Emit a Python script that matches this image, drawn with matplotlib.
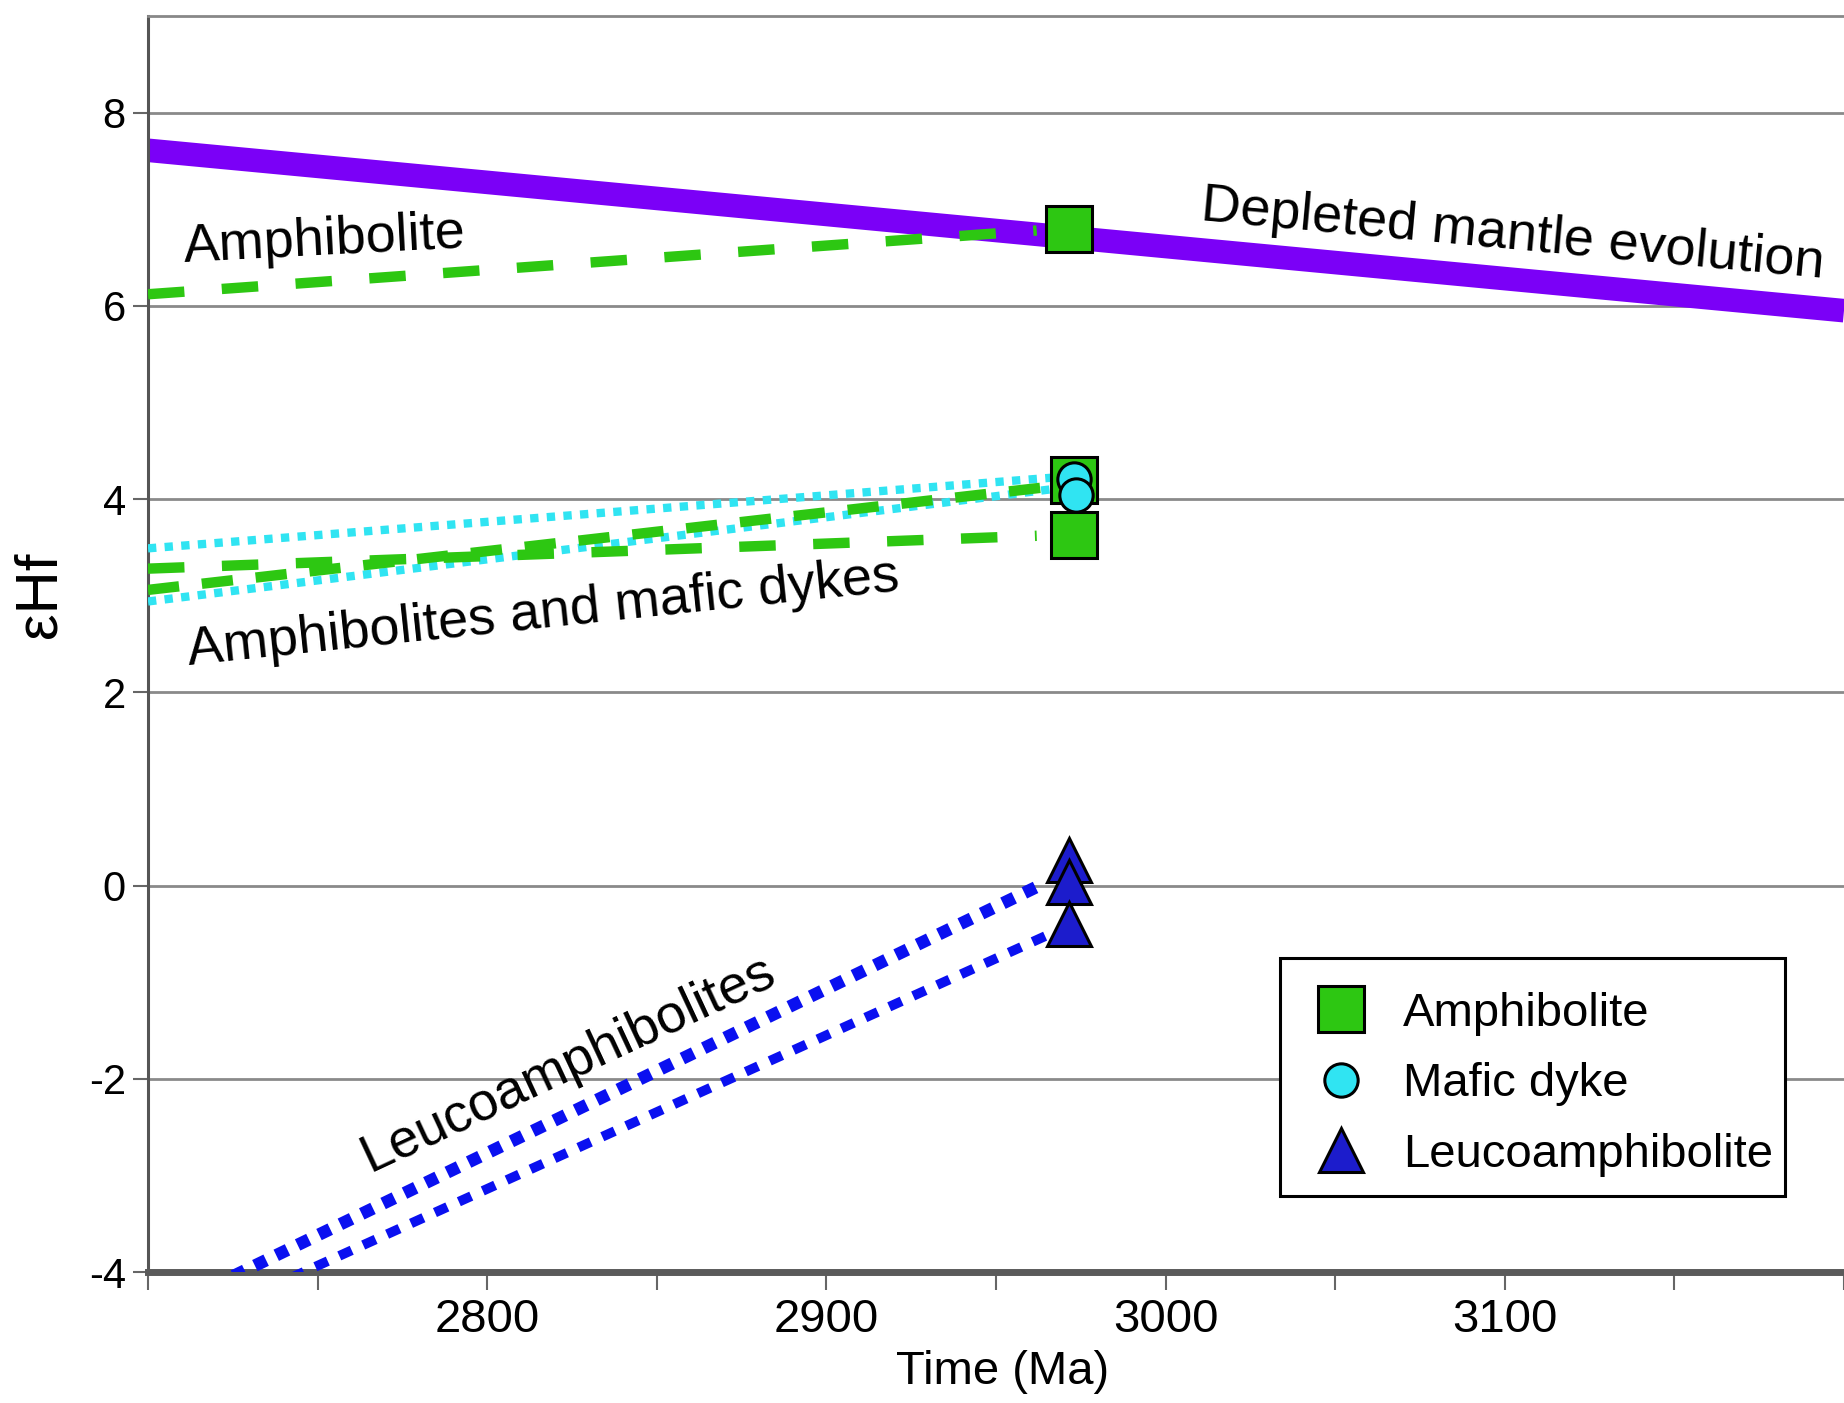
import matplotlib
matplotlib.use("Agg")
import matplotlib.pyplot as plt
from matplotlib.ticker import FixedLocator
from matplotlib.patches import Rectangle

plt.rcParams['font.family'] = ['Liberation Sans', 'DejaVu Sans']
plt.rcParams['axes.unicode_minus'] = False

# ---------------- data ----------------
x_lim = (2700, 3200)
y_lim = (-4, 9)
x_major = [2700, 2800, 2900, 3000, 3100, 3200]
x_major_labels = ['', '2800', '2900', '3000', '3100', '']
x_minor = [2750, 2850, 2950, 3050, 3150]
y_ticks = [-4, -2, 0, 2, 4, 6, 8]
y_tick_labels = ['-4', '-2', '0', '2', '4', '6', '8']

# depleted mantle evolution line
dm_x = [2700, 3200]
dm_y = [7.61, 5.95]

# Hf evolution lines
amph_top_x = [2700, 2962]
amph_top_y = [6.12, 6.78]
amph_flat_x = [2700, 2962]
amph_flat_y = [3.28, 3.62]
amph_rise_x = [2700, 2964]
amph_rise_y = [3.06, 4.12]
dyke_a_x = [2700, 2966]
dyke_a_y = [3.49, 4.22]
dyke_b_x = [2700, 2966]
dyke_b_y = [2.94, 4.10]
leuco_a_x = [2700, 2964]
leuco_a_y = [-4.47, 0.02]
leuco_b_x = [2700, 2966]
leuco_b_y = [-4.73, -0.50]

# sample points
amph_x = [2971.5, 2973, 2973]
amph_y = [6.80, 4.20, 3.63]
dyke_x = [2973, 2973.5]
dyke_y = [4.21, 4.04]
leuco_x = [2971.6, 2971.6, 2971.6]
leuco_y = [0.26, 0.04, -0.40]

# ---------------- style ----------------
c_purple = '#7B00F7'
c_green = '#2DC712'
c_cyan = '#30E4F2'
c_blue_line = '#0A10F0'
c_blue_fill = '#1C1CCC'
c_grid = '#8a8a8a'

W, H = 1844, 1403
AX_L, AX_R, AX_T, AX_B = 148, 1844, 16, 1272
AX_W, AX_H = AX_R - AX_L, AX_B - AX_T

fig = plt.figure(figsize=(W/100, H/100), dpi=100)
ax = fig.add_axes([AX_L/W, (H-AX_B)/H, AX_W/W, AX_H/H])
ax.set_xlim(*x_lim)
ax.set_ylim(*y_lim)

ax.xaxis.set_major_locator(FixedLocator(x_major))
ax.set_xticklabels(x_major_labels)
ax.xaxis.set_minor_locator(FixedLocator(x_minor))
ax.set_yticks(y_ticks)
ax.set_yticklabels(y_tick_labels)

ax.yaxis.grid(True, color=c_grid, lw=2.0, zorder=0)
ax.set_axisbelow(True)

ax.tick_params(axis='x', which='both', direction='out', length=13, width=1.5,
               color='#666666', labelsize=34, pad=6)
ax.tick_params(axis='y', which='major', direction='out', length=11, width=1.5,
               color='#666666', labelsize=30, pad=5)

ax.spines['right'].set_visible(False)
ax.spines['left'].set_color('#555555')
ax.spines['left'].set_linewidth(2.2)
ax.spines['top'].set_color('#888888')
ax.spines['top'].set_linewidth(2.0)
ax.spines['bottom'].set_color('#5a5a5a')
ax.spines['bottom'].set_linewidth(5)

# depleted mantle
ax.plot(dm_x, dm_y, color=c_purple, lw=17, solid_capstyle='butt', zorder=2)

# evolution lines
ax.plot(amph_top_x, amph_top_y, color=c_green, lw=7.5, dashes=(3.5, 3.6), zorder=3)
ax.plot(dyke_a_x, dyke_a_y, color=c_cyan, lw=6, dashes=(1, 1), zorder=3)
ax.plot(dyke_b_x, dyke_b_y, color=c_cyan, lw=6, dashes=(1, 1), zorder=3)
ax.plot(amph_flat_x, amph_flat_y, color=c_green, lw=7.5, dashes=(3.5, 3.6), zorder=3)
ax.plot(amph_rise_x, amph_rise_y, color=c_green, lw=7.5, dashes=(3.0, 2.2), zorder=3)
ax.plot(leuco_a_x, leuco_a_y, color=c_blue_line, lw=9, dashes=(1, 0.9), zorder=3)
ax.plot(leuco_b_x, leuco_b_y, color=c_blue_line, lw=7, dashes=(1.4, 1.3), zorder=3)

# markers
ax.plot(amph_x, amph_y, linestyle='none', marker='s', ms=33, mfc=c_green,
        mec='black', mew=2.2, zorder=5, label='Amphibolite')
ax.plot(dyke_x, dyke_y, linestyle='none', marker='o', ms=24, mfc=c_cyan,
        mec='black', mew=2.2, zorder=6, label='Mafic dyke')
ax.plot(leuco_x, leuco_y, linestyle='none', marker='^', ms=31, mfc=c_blue_fill,
        mec='black', mew=2.2, zorder=5, label='Leucoamphibolite')

# annotations
ann_fs = 39
fig.text(1513/W, 1-235/H, 'Depleted mantle evolution', fontsize=ann_fs,
         rotation=-5.3, ha='center', va='center', rotation_mode='anchor')
fig.text(325/W, 1-241/H, 'Amphibolite', fontsize=ann_fs,
         rotation=3, ha='center', va='center', rotation_mode='anchor')
fig.text(543/W, 1-614/H, 'Amphibolites and mafic dykes', fontsize=ann_fs,
         rotation=6, ha='center', va='center', rotation_mode='anchor')
fig.text(568/W, 1-1064/H, 'Leucoamphibolites', fontsize=ann_fs,
         rotation=25, ha='center', va='center', rotation_mode='anchor')

# axis labels
ax.set_xlabel('Time (Ma)', fontsize=34)
ax.xaxis.set_label_coords((1003-AX_L)/AX_W, (AX_B-1372)/AX_H)
ax.xaxis.label.set_va('center')
ax.set_ylabel('εHf', fontsize=43)
ax.yaxis.set_label_coords((40-AX_L)/AX_W, (AX_B-595)/AX_H)
ax.yaxis.label.set_va('center')

# legend frame (drawn as a box) and legend entries
box_l, box_r, box_t, box_b = 1280, 1785, 958, 1196
ax.add_patch(Rectangle(((box_l-AX_L)/AX_W, (AX_B-box_b)/AX_H),
                       (box_r-box_l)/AX_W, (box_b-box_t)/AX_H,
                       transform=ax.transAxes, facecolor='white',
                       edgecolor='black', lw=2.2, zorder=4.8))
leg = ax.legend(loc='upper left', bbox_to_anchor=((1308-AX_L)/AX_W, (AX_B-992)/AX_H),
                borderaxespad=0, fontsize=34, frameon=False,
                borderpad=0, labelspacing=0.56,
                handlelength=1.4, handletextpad=0.61, numpoints=1)
leg.set_zorder(5.5)

fig.savefig('out.png', dpi=100, facecolor='white')
